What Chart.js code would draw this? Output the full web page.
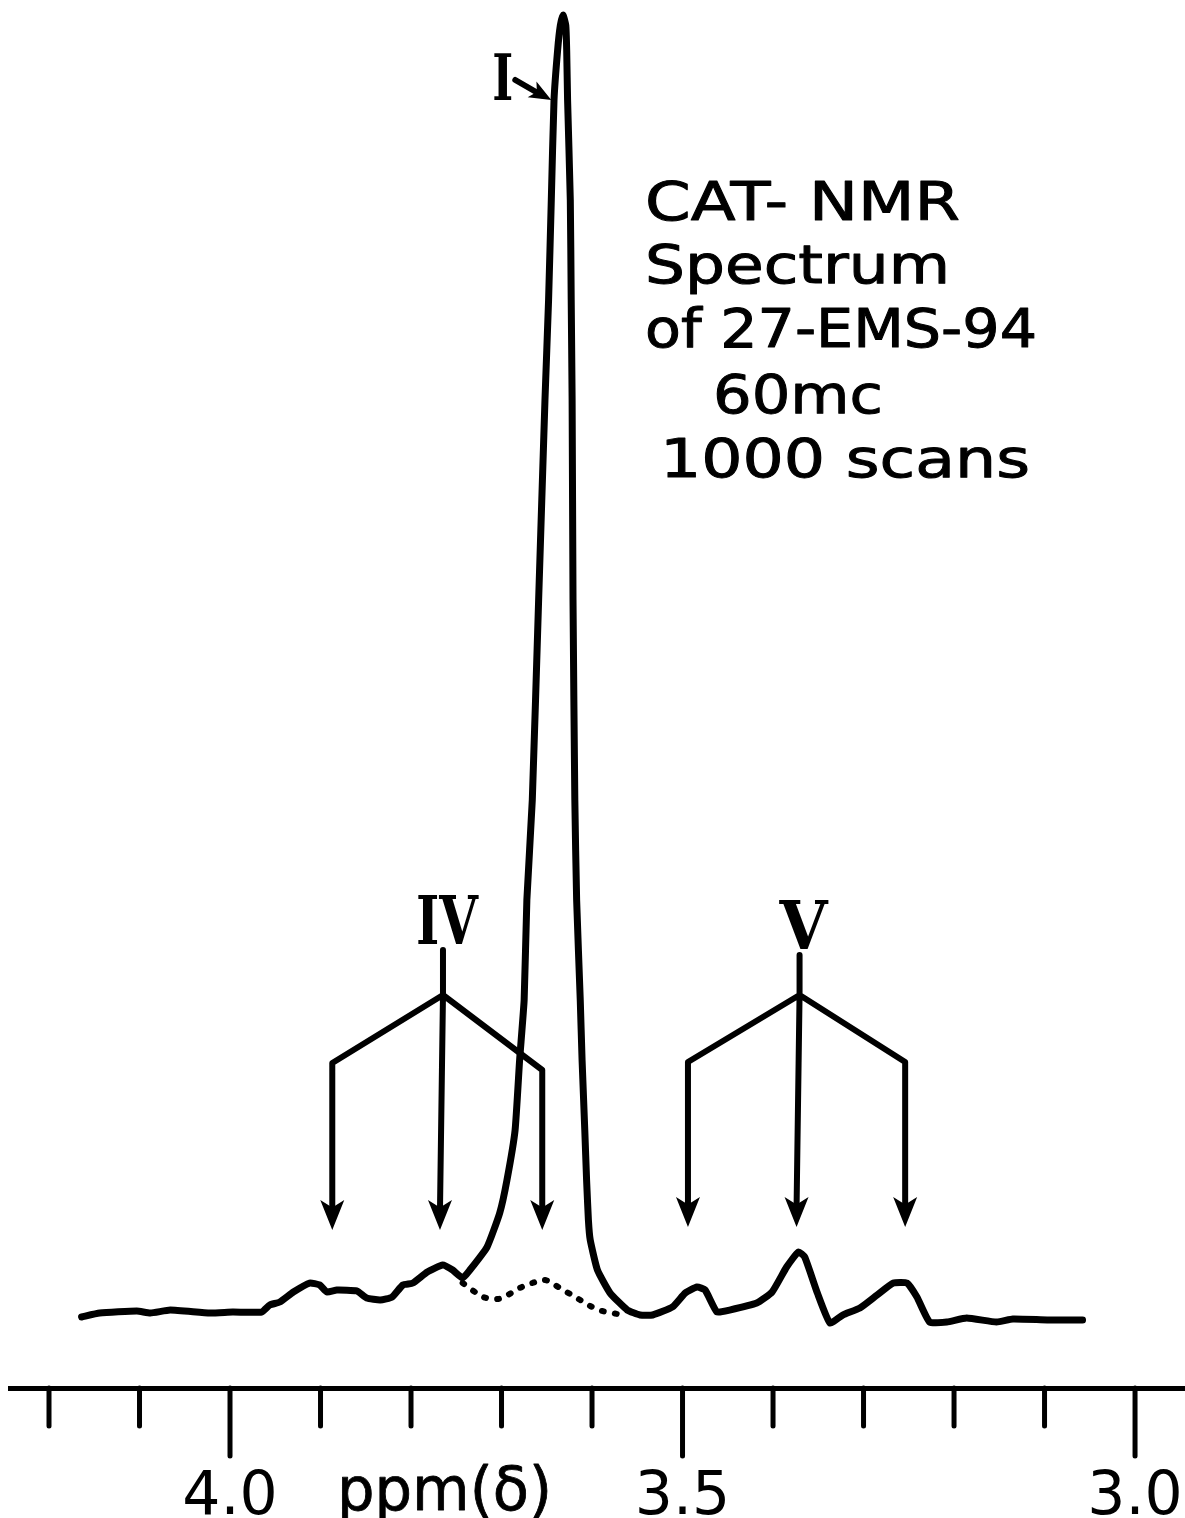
<!DOCTYPE html>
<html>
<head>
<meta charset="utf-8">
<script src="https://cdn.jsdelivr.net/npm/chart.js@4.4.1/dist/chart.umd.min.js"></script>
<style>
html,body{margin:0;padding:0;background:#fff;}
#wrap{width:1185px;height:1518px;position:relative;overflow:hidden;}
</style>
</head>
<body>
<div id="wrap"><canvas id="c" width="1185" height="1518"></canvas></div>
<script>
// ---- data ----
const shiftPpm = [4.164,4.144,4.103,4.088,4.066,4.022,3.997,3.965,3.956,3.945,3.930,3.912,3.901,3.893,3.882,3.860,3.849,3.834,3.821,3.809,3.798,3.782,3.765,3.754,3.743,3.735,3.716,3.702,3.694,3.685,3.680,3.675,3.672,3.666,3.659,3.652,3.648,3.645,3.642,3.638,3.635,3.632,3.629,3.628,3.627,3.624,3.623,3.622,3.621,3.619,3.617,3.613,3.611,3.608,3.606,3.604,3.602,3.594,3.580,3.561,3.547,3.533,3.511,3.497,3.484,3.475,3.462,3.448,3.418,3.401,3.385,3.372,3.365,3.351,3.337,3.323,3.304,3.285,3.267,3.252,3.241,3.227,3.208,3.186,3.153,3.135,3.097,3.058];
const intensity = [-0.15,0.15,0.31,0.15,0.38,0.15,0.23,0.23,0.77,1.0,1.77,2.46,2.31,1.77,1.92,1.85,1.31,1.15,1.38,2.31,2.46,3.31,3.85,3.46,2.85,3.46,5.23,7.85,10.38,14.23,19.62,24.23,31.92,39.62,55.0,70.38,78.08,85.77,93.46,97.31,99.2,100,99.2,97.31,93.46,85.77,78.08,70.38,55.0,39.62,31.92,24.23,19.62,14.23,10.38,7.31,5.77,3.46,1.69,0.38,0,0,0.62,1.69,2.15,1.92,0.23,0.38,0.92,1.77,3.69,4.85,4.46,1.69,-0.62,0,0.54,1.54,2.46,2.46,1.38,-0.54,-0.54,-0.23,-0.54,-0.31,-0.38,-0.38];
const dottedPpm = [3.743,3.720,3.704,3.693,3.680,3.666,3.652,3.641,3.632,3.622,3.613,3.602,3.589,3.572,3.564];
const dottedIntensity = [2.46,1.38,1.23,1.54,2.08,2.46,2.69,2.31,1.92,1.54,1.15,0.69,0.31,0.08,0];
const tickValues = [4.2,4.1,4.0,3.9,3.8,3.7,3.6,3.5,3.4,3.3,3.2,3.1,3.0];
const majorTickValues = [4.0,3.5,3.0];
const peakIppm = 3.645;
const groupIVppm = [3.887,3.768,3.655];
const groupVppm = [3.494,3.374,3.254];
const titleLines = ['CAT- NMR','Spectrum','of 27-EMS-94','60mc','1000 scans'];
const axisUnit = 'ppm(\u03B4)';

// ---- drawing helpers ----
const FONT = '"DejaVu Sans", "Open Sans", sans-serif';
const SERIF = '"DejaVu Serif", "Liberation Serif", serif';
function fitText(ctx, text, left, baseline, width, size, family, weight, thicken) {
  ctx.save();
  ctx.font = (weight || 'normal') + ' ' + size + 'px ' + family;
  const w = ctx.measureText(text).width;
  ctx.translate(left, baseline);
  ctx.scale(width / w, 1);
  ctx.textBaseline = 'alphabetic';
  ctx.textAlign = 'left';
  ctx.fillStyle = '#000';
  ctx.fillText(text, 0, 0);
  if (thicken) {
    ctx.strokeStyle = '#000';
    ctx.lineWidth = thicken;
    ctx.lineJoin = 'round';
    ctx.strokeText(text, 0, 0);
  }
  ctx.restore();
}
function arrowHead(ctx, x, y, angle, len, half) {
  ctx.save();
  ctx.translate(x, y);
  ctx.rotate(angle);
  ctx.beginPath();
  ctx.moveTo(0, 0);
  ctx.lineTo(-len, -half);
  ctx.lineTo(-len * 0.75, 0);
  ctx.lineTo(-len, half);
  ctx.closePath();
  ctx.fillStyle = '#000';
  ctx.fill();
  ctx.restore();
}

const tickPlugin = {
  id: 'tickPlugin',
  afterDraw(chart) {
    const ctx = chart.ctx, xs = chart.scales.x;
    const y0 = xs.top;
    ctx.save();
    ctx.strokeStyle = '#000';
    ctx.lineWidth = 5;
    ctx.lineCap = 'round';
    tickValues.forEach(v => {
      const px = xs.getPixelForValue(v);
      const major = majorTickValues.some(m => Math.abs(m - v) < 1e-6);
      ctx.beginPath();
      ctx.moveTo(px, y0);
      ctx.lineTo(px, y0 + (major ? 68 : 38));
      ctx.stroke();
    });
    ctx.restore();
    fitText(ctx, axisUnit, 337, 1510, 215, 60, FONT, 'normal', 0.8);
  }
};

const annotPlugin = {
  id: 'annotPlugin',
  afterDatasetsDraw(chart) {
    const ctx = chart.ctx, xs = chart.scales.x;
    ctx.save();
    ctx.strokeStyle = '#000';
    ctx.lineWidth = 6;
    ctx.lineCap = 'round';
    ctx.lineJoin = 'round';

    // Title block
    fitText(ctx, titleLines[0], 645, 220, 315, 54, FONT, 'normal', 1);
    fitText(ctx, titleLines[1], 645, 283, 305, 54, FONT, 'normal', 1);
    fitText(ctx, titleLines[2], 645, 347, 392, 54, FONT, 'normal', 1);
    fitText(ctx, titleLines[3], 713, 413, 170, 54, FONT, 'normal', 1);
    fitText(ctx, titleLines[4], 660, 477, 370, 54, FONT, 'normal', 1);

    // Label I with arrow
    const hx = xs.getPixelForValue(peakIppm);
    fitText(ctx, 'I', hx - 59, 100, 21, 64, SERIF, 'bold');
    ctx.beginPath();
    ctx.moveTo(hx - 36, 80);
    ctx.lineTo(hx - 10, 95);
    ctx.stroke();
    arrowHead(ctx, hx, 100, Math.atan2(20, 36), 22, 9);

    // split-arrow groups
    function group(label, ppms, labelW, stemTop, junctionY, cornerL, cornerR, tipY) {
      const xl = xs.getPixelForValue(ppms[0]);
      const xc = xs.getPixelForValue(ppms[1]);
      const xr = xs.getPixelForValue(ppms[2]);
      const jx = xc + 3;
      fitText(ctx, label, jx + 4 - labelW / 2, stemTop - 6, labelW, 68, SERIF, 'bold');
      ctx.beginPath();
      ctx.moveTo(jx, stemTop);
      ctx.lineTo(jx, junctionY);
      ctx.moveTo(xl, tipY - 20);
      ctx.lineTo(xl, cornerL);
      ctx.lineTo(jx, junctionY);
      ctx.lineTo(xr, cornerR);
      ctx.lineTo(xr, tipY - 20);
      ctx.moveTo(jx, junctionY);
      ctx.lineTo(xc, tipY - 20);
      ctx.stroke();
      [xl, xc, xr].forEach(x => arrowHead(ctx, x, tipY, Math.PI / 2, 30, 12));
    }
    group('IV', groupIVppm, 62, 950, 995, 1063, 1070, 1230);
    group('V', groupVppm, 48, 955, 995, 1062, 1062, 1227);
    ctx.restore();
  }
};

const ctx = document.getElementById('c').getContext('2d');
new Chart(ctx, {
  type: 'line',
  data: {
    datasets: [
      {
        data: shiftPpm.map((x, i) => ({x, y: intensity[i]})),
        borderColor: '#000',
        borderWidth: 7,
        pointRadius: 0,
        tension: 0.15,
        borderCapStyle: 'round',
        borderJoinStyle: 'round',
        fill: false,
        clip: false
      },
      {
        data: dottedPpm.map((x, i) => ({x, y: dottedIntensity[i]})),
        borderColor: '#000',
        borderWidth: 6,
        borderDash: [2, 11],
        borderCapStyle: 'round',
        pointRadius: 0,
        tension: 0.3,
        fill: false,
        clip: false
      }
    ]
  },
  options: {
    responsive: false,
    animation: false,
    devicePixelRatio: 1,
    layout: { padding: { left: 10, right: 0, top: 0, bottom: 0 } },
    plugins: { legend: { display: false }, tooltip: { enabled: false } },
    scales: {
      x: {
        type: 'linear',
        reverse: true,
        min: 2.9448,
        max: 4.2431,
        afterBuildTicks: s => { s.ticks = tickValues.map(v => ({value: v})); },
        afterFit: s => { s.height = 130; s.paddingLeft = 0; s.paddingRight = 0; },
        border: { display: true, color: '#000', width: 5 },
        grid: { drawOnChartArea: false, drawTicks: true, tickLength: 68, tickColor: 'rgba(0,0,0,0)', color: 'rgba(0,0,0,0)' },
        ticks: {
          autoSkip: false,
          maxRotation: 0,
          padding: 12,
          color: '#000',
          font: { family: FONT, size: 60, lineHeight: 1 },
          callback: v => majorTickValues.some(m => Math.abs(m - v) < 1e-6) ? v.toFixed(1) : ''
        }
      },
      y: {
        display: false,
        min: -5.615,
        max: 101.154
      }
    }
  },
  plugins: [tickPlugin, annotPlugin]
});
</script>
</body>
</html>
